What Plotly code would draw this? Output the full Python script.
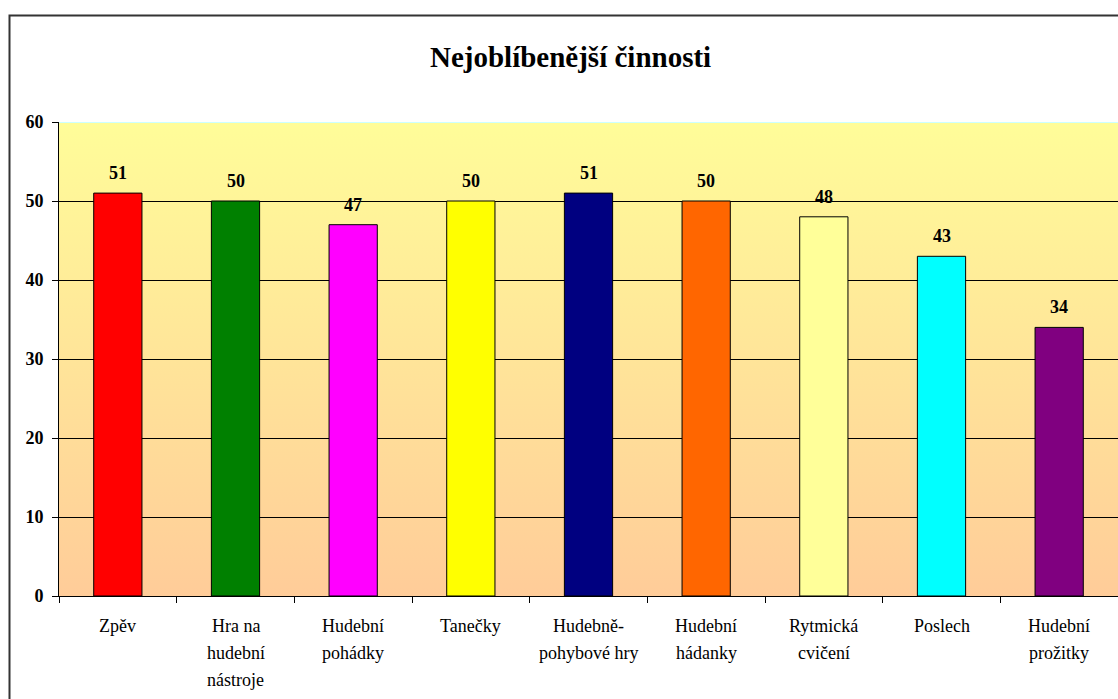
import base64
import plotly.graph_objects as go

categories = ["Zpěv", "Hra na\nhudební\nnástroje", "Hudební\npohádky", "Tanečky",
              "Hudebně-\npohybové hry", "Hudební\nhádanky", "Rytmická\ncvičení",
              "Poslech", "Hudební\nprožitky"]
values = [51, 50, 47, 50, 51, 50, 48, 43, 34]
colors = ["#FF0000", "#008000", "#FF00FF", "#FFFF00", "#000080",
          "#FF6600", "#FFFF99", "#00FFFF", "#800080"]
y_ticks = [0, 10, 20, 30, 40, 50, 60]
title = "Nejoblíbenější činnosti"

FONT = "Liberation Serif, Times New Roman, serif"
W, H = 1118, 699
L, R, T, B = 59, 0, 122, 103
pa_w, pa_h = W - L - R, H - T - B

svg = ('<svg xmlns="http://www.w3.org/2000/svg" width="100" height="100" preserveAspectRatio="none">'
       '<defs><linearGradient id="g" x1="0" y1="0" x2="0" y2="1">'
       '<stop offset="0" stop-color="#FFFD99"/><stop offset="1" stop-color="#FFCC99"/>'
       '</linearGradient></defs><rect width="100" height="100" fill="url(#g)"/></svg>')
src = "data:image/svg+xml;base64," + base64.b64encode(svg.encode()).decode()

xs = list(range(len(categories)))

fig = go.Figure(go.Bar(
    x=xs, y=values,
    marker=dict(color=colors, line=dict(color="black", width=1)),
    width=0.41, hoverinfo="skip",
))

annotations = []
for i, v in enumerate(values):
    annotations.append(dict(x=i, y=v, text=f"<b>{v}</b>", showarrow=False,
                            xref="x", yref="y", yanchor="bottom", yshift=8,
                            font=dict(family=FONT, size=18, color="black")))
for i, c in enumerate(categories):
    for j, line in enumerate(c.split("\n")):
        annotations.append(dict(x=i, y=0, text=line, showarrow=False,
                                xref="x", yref="y", yanchor="middle",
                                yshift=-(30 + 27 * j),
                                font=dict(family=FONT, size=18, color="black")))
annotations.append(dict(x=(570 - L) / pa_w, y=(H - B - 57) / pa_h,
                        xref="paper", yref="paper",
                        text=f"<b>{title}</b>", showarrow=False,
                        xanchor="center", yanchor="middle",
                        font=dict(family=FONT, size=29, color="black")))

shapes = [
    dict(type="line", xref="paper", yref="y", x0=0, x1=1, y0=60, y1=60,
         line=dict(color="#CCFFFF", width=2), layer="above"),
    dict(type="rect", xref="paper", yref="paper",
         x0=(9.5 - L) / pa_w, x1=(W + 20 - L) / pa_w,
         y0=(H - B - (H + 20)) / pa_h, y1=(H - B - 15.5) / pa_h,
         line=dict(color="#333333", width=2), fillcolor="rgba(0,0,0,0)", layer="above"),
]

fig.update_layout(
    width=W, height=H,
    margin=dict(l=L, r=R, t=T, b=B),
    paper_bgcolor="white", plot_bgcolor="rgba(0,0,0,0)",
    showlegend=False,
    bargap=0.59,
    annotations=annotations,
    shapes=shapes,
    images=[dict(source=src, xref="paper", yref="paper", x=0, y=1,
                 sizex=1, sizey=1, sizing="stretch", xanchor="left", yanchor="top",
                 layer="below")],
    xaxis=dict(range=[-0.5, len(categories) - 0.5],
               tickvals=[i - 0.5 for i in range(len(categories) + 1)],
               showticklabels=False, ticks="outside", ticklen=6, tickcolor="black",
               showline=True, linecolor="black", linewidth=1,
               showgrid=False, zeroline=False, fixedrange=True),
    yaxis=dict(range=[0, 60], tickvals=y_ticks,
               ticktext=[f"<b>{t}</b>" for t in y_ticks],
               ticks="outside", ticklen=6, tickcolor="black",
               ticklabelstandoff=5,
               tickfont=dict(family=FONT, size=18, color="black"),
               showline=True, linecolor="black", linewidth=1,
               showgrid=True, gridcolor="black", gridwidth=1,
               zeroline=False, fixedrange=True),
)

fig.write_html("out.html", config={"displayModeBar": False},
               post_script="document.body.style.margin='0';document.body.style.overflow='hidden';")
